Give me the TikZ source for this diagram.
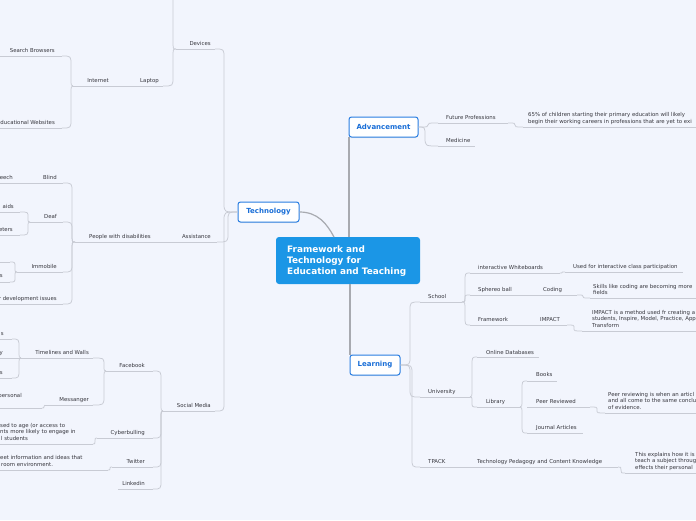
\documentclass[tikz,border=0pt]{standalone}
\usepackage{fontspec}
\setmainfont{DejaVu Sans}
\usetikzlibrary{calc,shadows}
\definecolor{bgc}{RGB}{242,245,253}
\definecolor{lnc}{RGB}{200,203,212}
\definecolor{mainc}{RGB}{168,170,176}
\definecolor{txt}{RGB}{55,55,62}
\definecolor{cenfill}{RGB}{27,150,230}
\definecolor{topbd}{RGB}{40,125,225}
\definecolor{toptxt}{RGB}{25,110,215}
\tikzset{
  lbl/.style={font=\fontsize{5.4}{6.5}\selectfont, text=txt, inner sep=0pt},
  lL/.style={lbl, anchor=base east},
  lR/.style={lbl, anchor=base west},
  ln/.style={draw=lnc, line width=0.75pt},
  mainln/.style={draw=mainc, line width=1.2pt},
  topic/.style={draw=topbd, fill=white, line width=1pt, rounded corners=2.5pt,
    font=\fontsize{7}{8}\selectfont\bfseries, text=toptxt, inner sep=0pt,
    minimum height=20pt, drop shadow={opacity=0.12, shadow xshift=0pt, shadow yshift=-1pt}},
  cenbox/.style={fill=cenfill, rounded corners=3pt, inner sep=0pt,
    minimum width=144pt, minimum height=47pt},
  centxt/.style={text=white, font=\fontsize{8.9}{11}\selectfont\bfseries, align=left,
    inner sep=0pt, anchor=north west},
}
\newcommand\myul[4]{\coordinate (#1L) at (#2,#4); \coordinate (#1R) at (#3,#4); \draw[ln] (#1L) -- (#1R);}
\newcommand\myconn[3]{\draw[ln] let \p1=(#1), \p2=(#2), \n1={max(-9,min(9,(\y2-\y1)/2))} in
  (\p1) .. controls ({#3pt},\y1) .. ({#3pt},{\y1+(\n1)*1pt}) -- ({#3pt},{\y2-(\n1)*1pt}) .. controls ({#3pt},\y2) .. (\p2);}
\begin{document}
\begin{tikzpicture}[x=1pt,y=-1pt]
\fill[bgc] (0,0) rectangle (696,520);
\useasboundingbox (0,0) rectangle (696,520);

% ---------- underlines ----------
\myul{dev}{176}{215}{49}
\myul{lap}{113}{163}{86}
\myul{int}{73}{113}{86}
\myul{sb}{0}{62}{56}
\myul{ew}{0}{62}{128}
\myul{ass}{156}{217}{242}
\myul{pwd}{75}{156}{242}
\myul{bl}{0}{63}{183}
\myul{de}{30}{63}{222}
\myul{ai}{0}{20}{212}
\myul{et}{0}{20}{235}
\myul{im}{17}{63}{272}
\myul{imA}{0}{10}{262}
\myul{imB}{0}{10}{282}
\myul{di}{0}{63}{304}
\myul{sm}{163}{215}{411}
\myul{fb}{106}{153}{371}
\myul{tl}{21}{93}{358}
\myul{tlA}{0}{12}{339}
\myul{tlB}{0}{21}{358}
\myul{tlC}{0}{12}{378}
\myul{ms}{45}{93}{405}
\myul{pe}{0}{42}{408}
\myul{cb}{97}{153}{438}
\myul{cbc}{0}{93}{444}
\myul{tw}{112}{153}{467}
\myul{twc}{0}{108}{470}
\myul{li}{118}{153}{489}

\myul{fp}{438}{508}{123}
\myul{six}{523}{696}{127}
\myul{me}{438}{475}{146}
\myul{sc}{420}{462}{302}
\myul{iw}{470}{560}{273}
\myul{us}{565}{683}{272}
\myul{sph}{470}{535}{295}
\myul{co}{535}{577}{295}
\myul{sk}{590}{696}{298}
\myul{fw}{470}{535}{325}
\myul{imp}{535}{567}{325}
\myul{iml}{582}{696}{331}
\myul{un}{420}{470}{397}
\myul{od}{477}{539}{357}
\myul{lib}{477}{520}{407}
\myul{bo}{527}{557}{381}
\myul{pr}{527}{590}{407}
\myul{prl}{605}{696}{413}
\myul{ja}{527}{583}{433}
\myul{tp}{420}{473}{467}
\myul{tpk}{473}{618}{467}
\myul{tex}{625}{696}{473}

% ---------- main nodes ----------
\node[cenbox] (cen) at (348,260.5) {};
\node[centxt] (cenTxt) at (287,245.5) {Framework and\\Technology for\\Education and Teaching};
\coordinate (cenT) at (334,237);
\draw[mainln] (cen.north -| 349,0) -- (349,137) coordinate (advB);
\draw[mainln] (cen.south -| 350,0) -- (350,355) coordinate (learnT);
\node[topic, minimum width=61pt] (tech) at (268.5,212) {Technology};
\node[topic, minimum width=69pt] (adv) at (383.5,127) {Advancement};
\node[topic, minimum width=50pt] (learn) at (375,365) {Learning};
\draw[mainln] (tech.east) .. controls (318,212) and (327,224) .. (cenT);

% ---------- connectors ----------
\coordinate (devTop) at (173,-10);
\myconn{tech.west}{devR}{224}
\myconn{tech.west}{assR}{228}
\myconn{tech.west}{smR}{224}
\myconn{devL}{lapR}{173}
\myconn{devL}{devTop}{173}
\myconn{intL}{sbR}{71}
\myconn{intL}{ewR}{71}
\myconn{pwdL}{blR}{72}
\myconn{pwdL}{deR}{72}
\myconn{pwdL}{imR}{72}
\myconn{pwdL}{diR}{72}
\myconn{deL}{aiR}{28}
\myconn{deL}{etR}{28}
\myconn{imL}{imAR}{15}
\myconn{imL}{imBR}{15}
\myconn{smL}{fbR}{161}
\myconn{smL}{cbR}{161}
\myconn{smL}{twR}{161}
\myconn{smL}{liR}{161}
\myconn{fbL}{tlR}{104}
\myconn{fbL}{msR}{104}
\myconn{tlL}{tlAR}{19}
\myconn{tlL}{tlCR}{19}
\myconn{msL}{peR}{44}
\myconn{cbL}{cbcR}{95}
\myconn{twL}{twcR}{110}

\myconn{adv.east}{fpL}{428}
\myconn{adv.east}{meL}{425}
\myconn{fpR}{sixL}{515}
\myconn{learn.east}{scL}{410}
\myconn{learn.east}{unL}{410}
\myconn{learn.east}{tpL}{412}
\myconn{scR}{iwL}{465}
\myconn{scR}{sphL}{465}
\myconn{scR}{fwL}{465}
\myconn{iwR}{usL}{562}
\myconn{coR}{skL}{583}
\myconn{impR}{imlL}{574}
\myconn{unR}{odL}{472}
\myconn{unR}{libL}{472}
\myconn{libR}{boL}{522}
\myconn{libR}{jaL}{522}
\myconn{prR}{prlL}{597}
\myconn{tpkR}{texL}{621}

% ---------- left labels ----------
\node[lL] (devT) at (211,45) {Devices};
\node[lL] (lapT) at (159,82) {Laptop};
\node[lL] (intT) at (109,82) {Internet};
\node[lL] (sbT) at (55,52) {Search Browsers};
\node[lL] (ewT) at (55,124) {ducational Websites};
\node[lL] (assT) at (211,238) {Assistance};
\node[lL] (pwdT) at (151,238) {People with disabilities};
\node[lL] (blT) at (57,179) {Blind};
\node[lL] (eeT) at (13,179) {eech};
\node[lL] (deT) at (57,218) {Deaf};
\node[lL] (aiT) at (14,208) {aids};
\node[lL] (etT) at (13,231) {eters};
\node[lL] (imT) at (57,268) {Immobile};
\node[lL] (imBT) at (3,277) {s};
\node[lL] (diT) at (57,300) {r development issues};
\node[lL] (smT) at (211,407) {Social Media};
\node[lL] (fbT) at (145,367) {Facebook};
\node[lL] (tlT) at (89,354) {Timelines and Walls};
\node[lL] (tlAT) at (4,335) {s};
\node[lL] (tlBT) at (3,354) {y};
\node[lL] (tlCT) at (3,374) {s};
\node[lL] (msT) at (89,401) {Messanger};
\node[lL] (peT) at (22,397) {personal};
\node[lL] (cbT) at (145,434) {Cyberbulling};
\node[lR] (cbA) at (0,427) {sed to age (or access to};
\node[lR] (cbB) at (0,433.5) {nts more likely to engage in};
\node[lR] (cbC) at (1,440) {l students};
\node[lL] (twT) at (145,463) {Twitter};
\node[lR] (twA) at (0,459) {eet information and ideas that};
\node[lR] (twB) at (1,466) {room environment.};
\node[lL] (liT) at (145,485) {Linkedin};

% ---------- right labels ----------
\node[lR] (fpT) at (446,119.5) {Future Professions};
\node[lR] (sixA) at (528,116) {65\% of children starting their primary education will likely};
\node[lR] (sixB) at (528,123) {begin their working careers in professions that are yet to exi};
\node[lR] (meT) at (446,142) {Medicine};
\node[lR] (scT) at (428,298) {School};
\node[lR] (iwT) at (478,269) {interactive Whiteboards};
\node[lR] (usT) at (573,268) {Used for interactive class participation};
\node[lR] (sphT) at (478,291) {Sphereo ball};
\node[lR] (coT) at (543,291) {Coding};
\node[lR] (skA) at (593,288) {Skills like coding are becoming more};
\node[lR] (skB) at (593,294.5) {fields};
\node[lR] (fwT) at (478,321) {Framework};
\node[lR] (impT) at (540,321) {IMPACT};
\node[lR] (imlA) at (592,314) {IMPACT is a method used fr creating a};
\node[lR] (imlB) at (592,320.5) {students, Inspire, Model, Practice, App};
\node[lR] (imlC) at (592,327) {Transform};
\node[lR] (unT) at (428,393) {University};
\node[lR] (odT) at (486,354) {Online Databases};
\node[lR] (libT) at (486,403) {Library};
\node[lR] (boT) at (536,376) {Books};
\node[lR] (prT) at (536,403) {Peer Reviewed};
\node[lR] (prlA) at (608,396) {Peer reviewing is when an articl};
\node[lR] (prlB) at (608,402.5) {and all come to the same conclu};
\node[lR] (prlC) at (608,409) {of evidence.};
\node[lR] (jaT) at (536,429) {Journal Articles};
\node[lR] (tpT) at (428,463) {TPACK};
\node[lR] (tpkT) at (477,463) {Technology Pedagogy and Content Knowledge};
\node[lR] (texA) at (635,456) {This explains how it is};
\node[lR] (texB) at (635,462.5) {teach a subject throug};
\node[lR] (texC) at (635,469) {effects their personal};
\end{tikzpicture}
\end{document}
